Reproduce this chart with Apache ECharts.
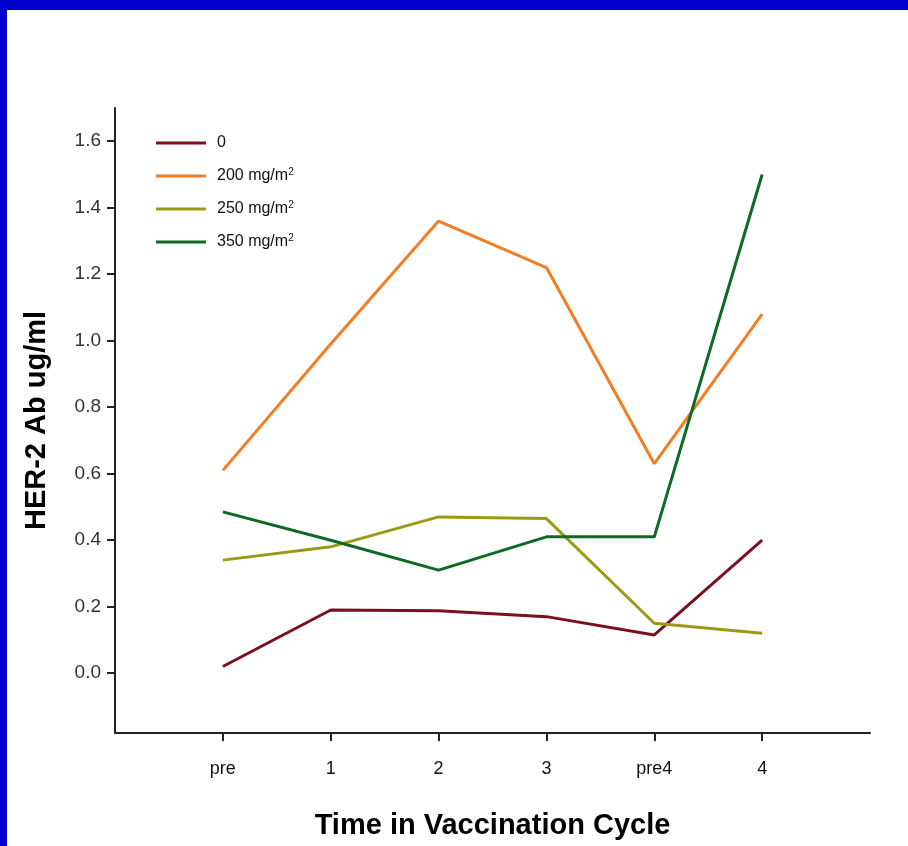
<!DOCTYPE html>
<html>
<head>
<meta charset="utf-8">
<script src="https://cdn.jsdelivr.net/npm/echarts@6/dist/echarts.min.js"></script>
<style>
html,body{margin:0;padding:0;background:#fff;}
#chart{width:908px;height:846px;}
</style>
</head>
<body>
<div id="chart"></div>
<script>
// Data
var categories = ['pre', '1', '2', '3', 'pre4', '4'];
var seriesNames = ['0', '200 mg/m2', '250 mg/m2', '350 mg/m2'];
var dose0   = [0.02, 0.19, 0.188, 0.17, 0.115, 0.40];
var dose200 = [0.61, 0.99, 1.36, 1.22, 0.63, 1.08];
var dose250 = [0.34, 0.38, 0.47, 0.465, 0.15, 0.12];
var dose350 = [0.485, 0.40, 0.31, 0.41, 0.41, 1.50];
var yTicks = [0.0, 0.2, 0.4, 0.6, 0.8, 1.0, 1.2, 1.4, 1.6];
var xTickIdx = [0, 1, 2, 3, 4, 5];

var colors = ['#7B0F1E', '#F27D22', '#9C9A14', '#0B6A25'];
var allData = [dose0, dose200, dose250, dose350];

function toPairs(arr) {
  return arr.map(function (v, i) { return [i, v]; });
}

var chart = echarts.init(document.getElementById('chart'), null, {renderer: 'canvas'});

var option = {
  backgroundColor: '#ffffff',
  animation: false,
  graphic: [
    {type: 'rect', left: 0, top: 0, shape: {width: 908, height: 10}, style: {fill: '#0000CC'}, z: 100},
    {type: 'rect', left: 0, top: 0, shape: {width: 7, height: 846}, style: {fill: '#0000CC'}, z: 100}
  ],
  grid: {left: 115, top: 108, right: 38, bottom: 113, containLabel: false, outerBoundsMode: 'none'},
  legend: {
    orient: 'vertical',
    left: 151,
    top: 130,
    itemWidth: 50,
    itemHeight: 3,
    itemGap: 16,
    icon: 'rect',
    data: seriesNames,
    formatter: function (name) {
      if (name.indexOf('mg/m') >= 0) {
        return name.slice(0, -1) + '{sup|2}';
      }
      return name;
    },
    textStyle: {
      fontFamily: 'Liberation Sans',
      fontSize: 16,
      color: '#111',
      padding: [0, 0, 0, 6],
      rich: {
        sup: {fontSize: 10, verticalAlign: 'top', padding: [0, 0, 8, 0], color: '#111'}
      }
    }
  },
  xAxis: {
    type: 'value',
    min: -1,
    max: 6,
    name: 'Time in Vaccination Cycle',
    nameLocation: 'middle',
    nameGap: 78,
    nameTextStyle: {fontFamily: 'Liberation Sans', fontWeight: 'bold', fontSize: 29, color: '#000'},
    splitLine: {show: false},
    axisLine: {show: true, onZero: false, lineStyle: {color: '#222', width: 2}},
    axisTick: {show: true, inside: false, length: 8, customValues: xTickIdx, lineStyle: {color: '#222', width: 2}},
    axisLabel: {
      customValues: xTickIdx,
      margin: 27,
      fontFamily: 'Liberation Sans',
      fontSize: 18,
      color: '#111',
      formatter: function (v) { return categories[Math.round(v)]; }
    }
  },
  yAxis: {
    type: 'value',
    min: -0.18,
    max: 1.7,
    name: 'HER-2 Ab ug/ml',
    nameLocation: 'middle',
    nameGap: 64,
    nameRotate: 90,
    nameTextStyle: {fontFamily: 'Liberation Sans', fontWeight: 'bold', fontSize: 29, color: '#000'},
    splitLine: {show: false},
    axisLine: {show: true, onZero: false, lineStyle: {color: '#222', width: 2}},
    axisTick: {show: true, inside: false, length: 8, customValues: yTicks, lineStyle: {color: '#222', width: 2}},
    axisLabel: {
      customValues: yTicks,
      margin: 14,
      fontFamily: 'Liberation Sans',
      fontSize: 19,
      color: '#333',
      formatter: function (v) { return v.toFixed(1); }
    }
  },
  series: seriesNames.map(function (n, i) {
    return {
      name: n,
      type: 'line',
      data: toPairs(allData[i]),
      symbol: 'none',
      lineStyle: {color: colors[i], width: 3},
      itemStyle: {color: colors[i]},
      z: 2 + (i === 3 ? 1 : 0)
    };
  })
};
chart.setOption(option);
</script>
</body>
</html>
